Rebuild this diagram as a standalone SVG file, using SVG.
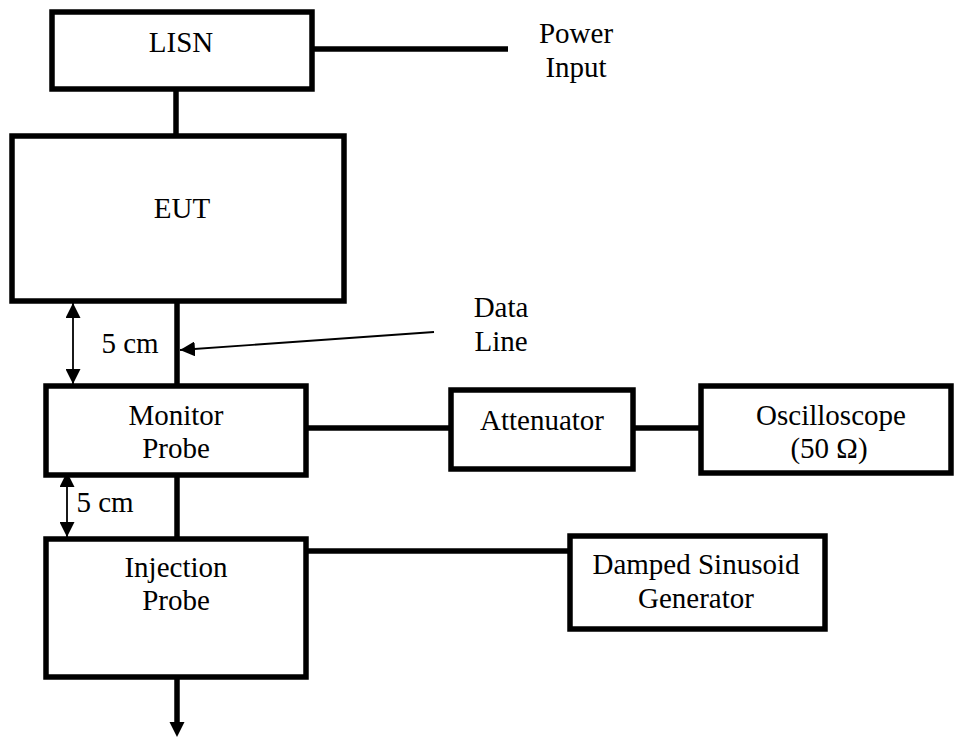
<svg xmlns="http://www.w3.org/2000/svg" width="954" height="738" viewBox="0 0 954 738">
<style>
.box{fill:#fff;stroke:#000;stroke-width:5.5}
.wire{stroke:#000;stroke-width:5.5;fill:none}
.thin{stroke:#000;stroke-width:1.8;fill:none}
text{font-family:"Liberation Serif","Times New Roman",serif;font-size:29px;fill:#000;text-anchor:middle}
</style>
<defs>
<marker id="ahs" viewBox="0 0 10 10" refX="10" refY="5" markerWidth="15" markerHeight="15" markerUnits="userSpaceOnUse" orient="auto-start-reverse">
<path d="M0,0 L10,5 L0,10 z" fill="#000"/>
</marker>
</defs>
<g id="connectors">
<line class="wire" x1="312" y1="49" x2="508" y2="49"/>
<line class="wire" x1="176" y1="89" x2="176" y2="136"/>
<line class="wire" x1="177" y1="301" x2="177" y2="386"/>
<line class="wire" x1="306" y1="428" x2="451" y2="428"/>
<line class="wire" x1="633" y1="428" x2="701" y2="428"/>
<line class="wire" x1="177" y1="475" x2="177" y2="539"/>
<line class="wire" x1="306" y1="551" x2="570" y2="551"/>
<line class="wire" x1="177" y1="677" x2="177" y2="722"/>
<path d="M169.5,722 L184.5,722 L177,737 z" fill="#000"/>
<line class="thin" x1="434" y1="332" x2="180" y2="350" marker-end="url(#ahs)"/>
<line class="thin" x1="73" y1="303" x2="73" y2="384" marker-start="url(#ahs)" marker-end="url(#ahs)"/>
<line class="thin" x1="67" y1="472" x2="67" y2="537" marker-start="url(#ahs)" marker-end="url(#ahs)"/>
</g>
<g id="lisn">
<rect class="box" x="52" y="12" width="260" height="77"/>
<text x="181" y="52">LISN</text>
</g>
<g id="power-input">
<text x="576" y="43">Power</text>
<text x="576" y="77">Input</text>
</g>
<g id="eut">
<rect class="box" x="12" y="136" width="332" height="165"/>
<text x="182" y="218">EUT</text>
</g>
<g id="data-line">
<text x="501" y="317">Data</text>
<text x="501" y="351">Line</text>
</g>
<g id="dist1">
<text x="130" y="353">5 cm</text>
</g>
<g id="monitor-probe">
<rect class="box" x="46" y="386" width="260" height="89"/>
<text x="176" y="425">Monitor</text>
<text x="176" y="458">Probe</text>
</g>
<g id="attenuator">
<rect class="box" x="451" y="390" width="182" height="79"/>
<text x="542" y="430">Attenuator</text>
</g>
<g id="oscilloscope">
<rect class="box" x="701" y="386" width="250" height="87"/>
<text x="831" y="425">Oscilloscope</text>
<text x="829" y="458">(50 Ω)</text>
</g>
<g id="dist2">
<text x="105" y="512">5 cm</text>
</g>
<g id="injection-probe">
<rect class="box" x="46" y="539" width="260" height="138"/>
<text x="176" y="577">Injection</text>
<text x="176" y="610">Probe</text>
</g>
<g id="generator">
<rect class="box" x="570" y="536" width="255" height="93"/>
<text x="696" y="574">Damped Sinusoid</text>
<text x="696" y="608">Generator</text>
</g>
</svg>
